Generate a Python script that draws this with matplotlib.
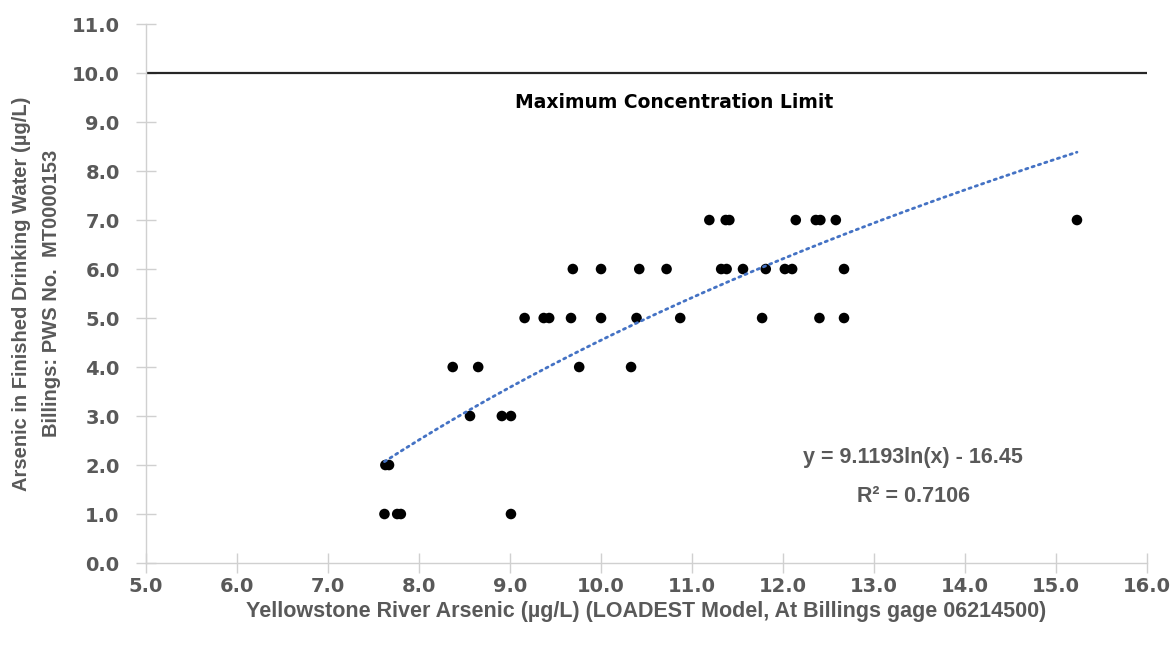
import numpy as np
import matplotlib
matplotlib.use('Agg')
from matplotlib import pyplot as plt

# river arsenic (x) grouped by the finished-water value (y)
river_as = [7.62, 7.76, 7.80, 9.01,
            7.63, 7.67,
            8.56, 8.91, 9.01,
            8.37, 8.65, 9.76, 10.33,
            9.16, 9.37, 9.43, 9.67, 10.00, 10.39, 10.87, 11.77, 12.40, 12.67,
            9.69, 10.00, 10.42, 10.72, 11.32, 11.38, 11.56, 11.81, 12.02, 12.10, 12.67,
            11.19, 11.37, 11.41, 12.14, 12.36, 12.41, 12.58, 15.23]
tap_as   = [1, 1, 1, 1,
            2, 2,
            3, 3, 3,
            4, 4, 4, 4,
            5, 5, 5, 5, 5, 5, 5, 5, 5, 5,
            6, 6, 6, 6, 6, 6, 6, 6, 6, 6, 6,
            7, 7, 7, 7, 7, 7, 7, 7]

fit_a = 9.1193       # log trend coefficients as printed on the chart
fit_b = -16.45
r_squared = 0.7106
mcl = 10.0

x_ticks = np.arange(5, 16.01, 1.0)
y_ticks = np.arange(0, 11.01, 1.0)

grey = '#595959'
plt.rcParams['font.family'] = ['Liberation Sans', 'DejaVu Sans']

fig = plt.figure(figsize=(11.75, 6.53), dpi=100)
ax = fig.add_axes([0.1243, 0.1378, 0.8519, 0.8254])

ax.axhline(mcl, color='#262626', lw=1.6, zorder=2)
ax.text(10.8, 9.4, 'Maximum Concentration Limit', ha='center', va='center',
        fontsize=13.5, fontweight='bold', color='black', family='DejaVu Sans')

ax.scatter(river_as, tap_as, s=58, color='black', zorder=3, edgecolor='none')

xx = np.linspace(min(river_as), max(river_as), 200)
ax.plot(xx, fit_a * np.log(xx) + fit_b, color='#4472C4', lw=2.0,
        linestyle=(0, (0.8, 1.6)), dash_capstyle='round', zorder=4)

ax.text(13.43, 2.16, 'y = %.4fln(x) - %.2f' % (fit_a, -fit_b), ha='center', va='center',
        fontsize=15.5, fontweight='bold', color=grey)
ax.text(13.43, 1.35, 'R² = %.4f' % r_squared, ha='center', va='center',
        fontsize=15.5, fontweight='bold', color=grey)

ax.set_xlim(5, 16)
ax.set_ylim(0, 11)
ax.set_xticks(x_ticks)
ax.set_yticks(y_ticks)
ax.set_xticklabels(['%.1f' % v for v in x_ticks])
ax.set_yticklabels(['%.1f' % v for v in y_ticks])

for s in ['top', 'right']:
    ax.spines[s].set_visible(False)
for s in ['left', 'bottom']:
    ax.spines[s].set_color('#d0d0d0')
    ax.spines[s].set_linewidth(1.0)

ax.tick_params(axis='both', direction='inout', length=14, width=1.0, color='#d0d0d0',
               labelcolor=grey, labelsize=14)
ax.tick_params(axis='x', pad=3)
ax.tick_params(axis='y', pad=12)
for lab in ax.get_xticklabels() + ax.get_yticklabels():
    lab.set_fontweight('bold')
    lab.set_family('DejaVu Sans')

ax.set_xlabel('Yellowstone River Arsenic (µg/L) (LOADEST Model, At Billings gage 06214500)',
              fontsize=15.5, fontweight='bold', color=grey, labelpad=4)
ax.set_ylabel('Arsenic in Finished Drinking Water (µg/L)\nBillings: PWS No.  MT0000153',
              fontsize=14.5, fontweight='semibold', color=grey, labelpad=8, linespacing=1.7)

fig.savefig('out.png', dpi=100)
